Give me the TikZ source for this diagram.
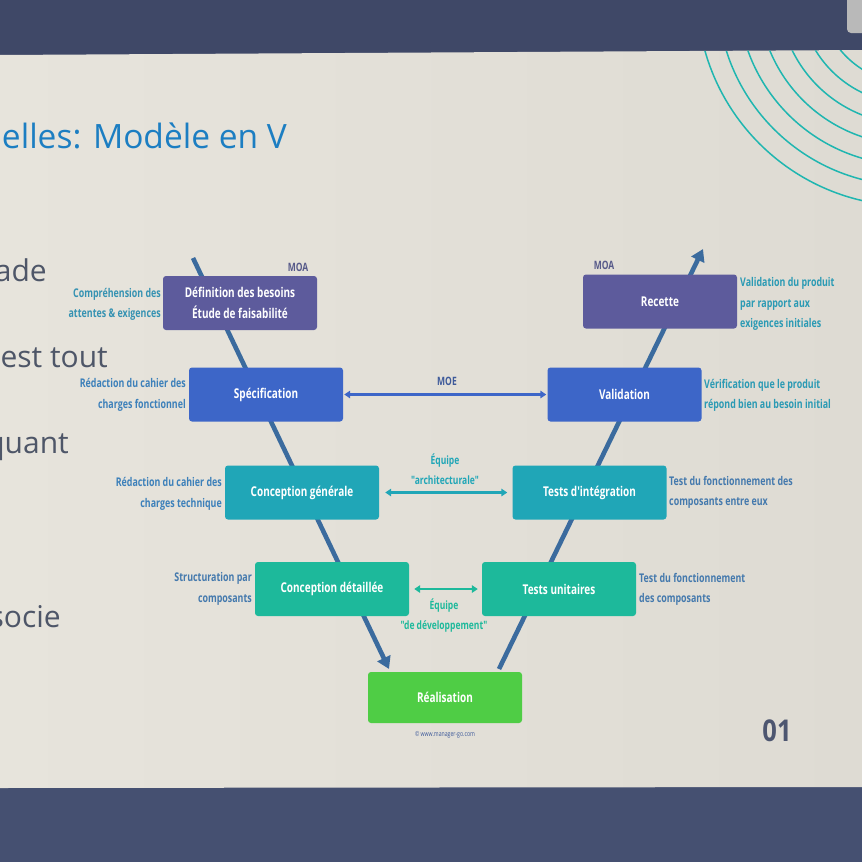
\documentclass[tikz,border=0pt]{standalone}
\usepackage{fontspec}
\setmainfont{Open Sans}
\newfontfamily\condfont[FakeStretch=0.74]{Open Sans}
\newfontfamily\numfont[FakeStretch=0.85]{Open Sans}
\usetikzlibrary{arrows.meta}

\definecolor{band}{HTML}{3F4867}
\definecolor{bandlow}{HTML}{455071}
\definecolor{slideL}{HTML}{E7E4DC}
\definecolor{slideR}{HTML}{DEDBD3}
\definecolor{ring}{HTML}{1FB6B0}
\definecolor{titleblue}{HTML}{1C7EC2}
\definecolor{bullet}{HTML}{4E5668}
\definecolor{moa}{HTML}{5D5B9C}
\definecolor{moalabel}{HTML}{575A8A}
\definecolor{moe}{HTML}{3D66C8}
\definecolor{moelabel}{HTML}{3E5A9A}
\definecolor{archi}{HTML}{20A6B7}
\definecolor{devel}{HTML}{1DB99B}
\definecolor{real}{HTML}{4FCD45}
\definecolor{vline}{HTML}{3B6B9E}
\definecolor{sideA}{HTML}{3592B2}
\definecolor{sideB}{HTML}{3C80BA}
\definecolor{sideC}{HTML}{4479AD}
\definecolor{sideD}{HTML}{2A9AB4}
\definecolor{pagenum}{HTML}{4D5670}

\begin{document}
\begin{tikzpicture}[x=1pt,y=-1pt,
  vbox/.style={rectangle, rounded corners=3pt, minimum width=154pt,
    minimum height=54pt, inner sep=0pt, text=white, align=center,
    font=\condfont\bfseries\fontsize{13.5}{21}\selectfont},
  sidetext/.style={inner sep=0pt,
    font=\condfont\bfseries\fontsize{12}{20.5}\selectfont},
  tag/.style={inner sep=0pt, align=center,
    font=\condfont\bfseries\fontsize{11.5}{20}\selectfont},
  vstroke/.style={draw=vline, line width=4.6pt,
    -{Triangle[width=14pt,length=12pt]}},
  hlink/.style={line width=2.3pt,
    {Triangle[width=7.5pt,length=6pt]}-{Triangle[width=7.5pt,length=6pt]}},
  bulletline/.style={inner sep=0pt, text=bullet, anchor=base east,
    font=\fontsize{30}{36}\selectfont},
]
\useasboundingbox (0,0) rectangle (862,862);
\begin{scope}
\clip (0,0) rectangle (862,862);

% dark surround and the projected slide
\fill[band] (0,0) rectangle (862,862);
\fill[bandlow] (0,780) rectangle (862,862);
\shade[left color=slideL, right color=slideR]
  (0,55) -- (862,50) -- (862,787) -- (0,788) -- cycle;
\fill[gray!55, rounded corners=4pt] (847,-6) rectangle (872,33);

% concentric rings in the upper right corner
\begin{scope}
  \clip (0,55) -- (862,50) -- (862,787) -- (0,788) -- cycle;
  \foreach \r in {213,192.5,172,151.5,131,110.5,90}
    \draw[ring, line width=1.5pt] (910,-7) circle[radius=\r];
\end{scope}

% heading and left-hand bullet text
\node[inner sep=0pt, anchor=base east, text=titleblue,
  font=\fontsize{33.5}{40}\selectfont] (title) at (287,148) {elles: Modèle en V};
\node[bulletline] (b1) at (47,281) {ade};
\node[bulletline] (b2) at (108,367) {est tout};
\node[bulletline] (b3) at (69,453) {quant};
\node[bulletline] (b4) at (61,627) {socie};

% the two legs of the V
\coordinate (vL1) at (193,258);
\coordinate (vL2) at (389,669);
\coordinate (vR1) at (499,669);
\coordinate (vR2) at (703,249);
\draw[vstroke] (vL1) -- (vL2);
\draw[vstroke] (vR1) -- (vR2);

% phase boxes
\node[vbox, fill=moa] (def) at (240,303)
  {Définition des besoins\\Étude de faisabilité};
\node[vbox, fill=moa] (rec) at (660,301.5) {Recette};
\node[vbox, fill=moe] (spec) at (266,394.5) {Spécification};
\node[vbox, fill=moe] (valid) at (624.5,394.5) {Validation};
\node[vbox, fill=archi] (cgen) at (302,492.5) {Conception générale};
\node[vbox, fill=archi] (tint) at (589.5,492.5) {Tests d'intégration};
\node[vbox, fill=devel] (cdet) at (332,589) {Conception détaillée};
\node[vbox, fill=devel] (tunit) at (559,589) {Tests unitaires};
\node[vbox, fill=real, minimum height=51pt] (realis) at (445,697.5) {Réalisation};

% horizontal team links
\draw[hlink, moe, shorten <=1pt, shorten >=1pt]
  (spec.east) -- (spec.east -| valid.west);
\draw[hlink, archi, shorten <=6pt, shorten >=5pt]
  (cgen.east) -- (tint.west);
\draw[hlink, devel, shorten <=5pt, shorten >=4pt]
  (cdet.east) -- (tunit.west);

% team labels
\node[tag, text=moalabel] (moaL) at (298,267) {MOA};
\node[tag, text=moalabel] (moaR) at (604,265) {MOA};
\node[tag, text=moelabel] (moeT) at (447,381) {MOE};
\node[tag, text=archi] (archT) at (445,469.5) {Équipe\\"architecturale"};
\node[tag, text=devel] (devT) at (444,616) {Équipe\\"de développement"};

% descriptions on the left
\node[sidetext, anchor=east, align=right, text=sideA] (s1) at (161,304.5)
  {Compréhension des\\attentes \& exigences};
\node[sidetext, anchor=east, align=right, text=sideB] (s2) at (186,395)
  {Rédaction du cahier des\\charges fonctionnel};
\node[sidetext, anchor=east, align=right, text=sideB] (s3) at (222,494)
  {Rédaction du cahier des\\charges technique};
\node[sidetext, anchor=east, align=right, text=sideC] (s4) at (252,589)
  {Structuration par\\composants};

% descriptions on the right
\node[sidetext, anchor=west, align=left, text=sideD] (s5) at (740,304)
  {Validation du produit\\par rapport aux\\exigences initiales};
\node[sidetext, anchor=west, align=left, text=sideD] (s6) at (704,395.5)
  {Vérification que le produit\\répond bien au besoin initial};
\node[sidetext, anchor=west, align=left, text=sideC] (s7) at (669,492.5)
  {Test du fonctionnement des\\composants entre eux};
\node[sidetext, anchor=west, align=left, text=sideC] (s8) at (639,589.5)
  {Test du fonctionnement\\des composants};

% footer
\node[inner sep=0pt, text=moelabel, font=\condfont\fontsize{7}{8}\selectfont]
  (credit) at (445,735) {© www.manager-go.com};
\node[inner sep=0pt, text=pagenum, font=\numfont\bfseries\fontsize{30}{32}\selectfont]
  (page) at (777,731) {01};
\end{scope}
\end{tikzpicture}
\end{document}
